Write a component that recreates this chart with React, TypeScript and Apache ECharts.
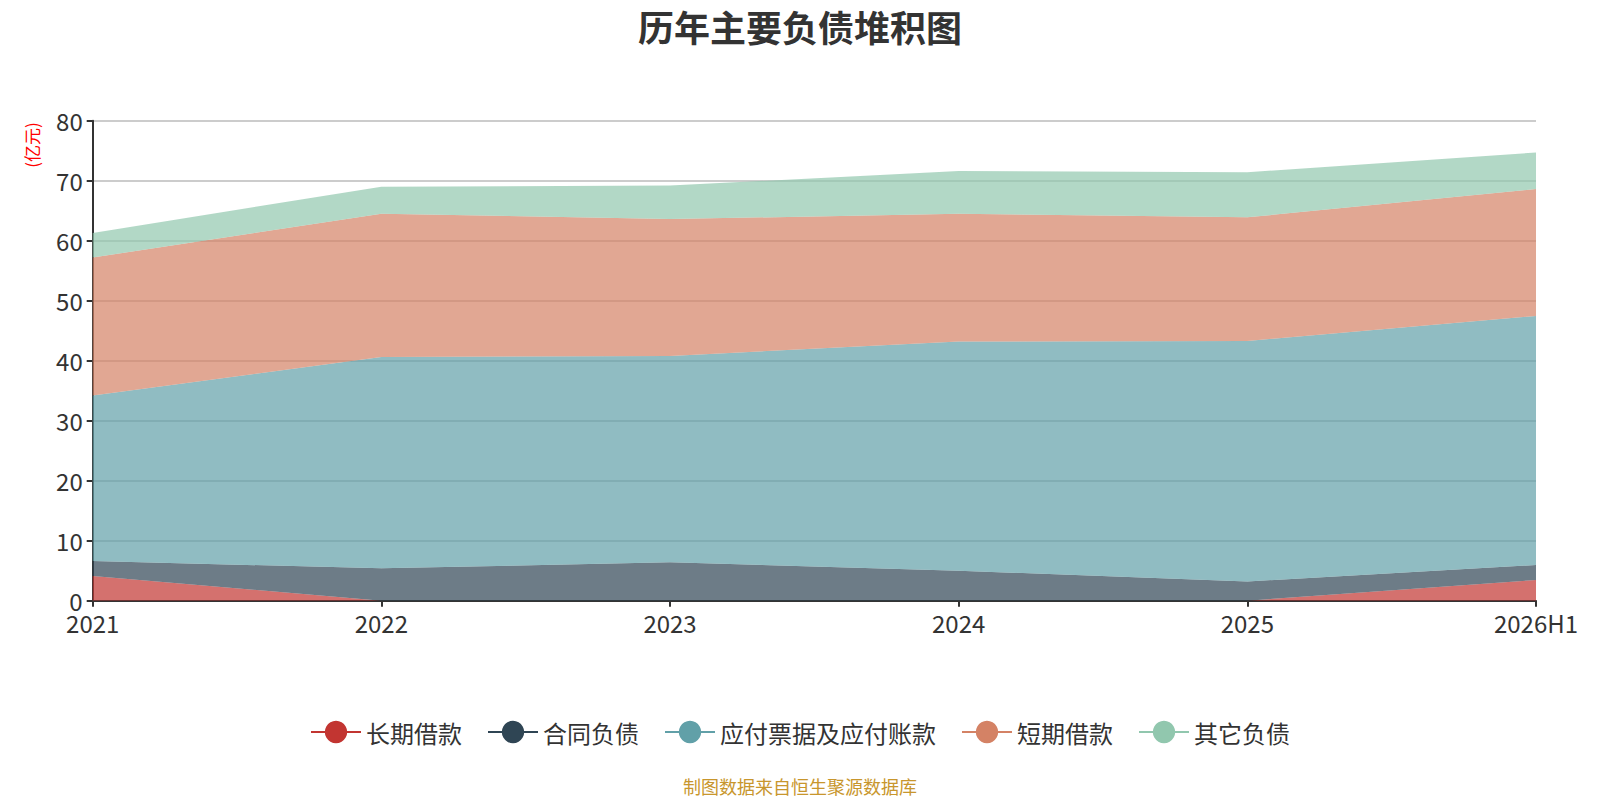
import React, { useEffect, useRef } from "react";
import * as echarts from "echarts";

const categories = ["2021", "2022", "2023", "2024", "2025", "2026H1"];
const seriesNames = ["长期借款", "合同负债", "应付票据及应付账款", "短期借款", "其它负债"];
const longTermLoans = [4.1, 0, 0, 0, 0, 3.45];
const contractLiabilities = [2.5, 5.4, 6.4, 5.0, 3.2, 2.5];
const payables = [27.6, 35.2, 34.4, 38.2, 40.1, 41.5];
const shortTermLoans = [23.0, 23.9, 22.8, 21.3, 20.6, 21.15];
const otherLiabilities = [4.1, 4.5, 5.6, 7.1, 7.5, 6.1];
const yTicks = [0, 10, 20, 30, 40, 50, 60, 70, 80];

const colors = ["#c23531", "#2f4554", "#61a0a8", "#d48265", "#91c7ae"];
const FONT = "'Noto Sans CJK SC', 'Noto Sans', sans-serif";

export default function App() {
  const ref = useRef<HTMLDivElement>(null);
  useEffect(() => {
    if (!ref.current) return;
    const chart = echarts.init(ref.current, null, { renderer: "svg" });
    const values = [longTermLoans, contractLiabilities, payables, shortTermLoans, otherLiabilities];
    chart.setOption({
      animation: false,
      color: colors,
      textStyle: { fontFamily: FONT },
      title: {
        text: "历年主要负债堆积图",
        left: "center",
        top: 3,
        textStyle: { fontSize: 36, fontWeight: "bold", color: "#333", fontFamily: FONT },
      },
      legend: {
        top: 715,
        left: "center",
        itemWidth: 50,
        itemHeight: 28,
        itemGap: 25,
        lineStyle: { width: 2, opacity: 1 },
        textStyle: { fontSize: 24, color: "#333", fontFamily: FONT },
        data: seriesNames,
      },
      grid: { left: 92.7, right: 64, top: 120.7, bottom: 199.3, containLabel: false },
      xAxis: {
        type: "category",
        boundaryGap: false,
        data: categories,
        axisLine: { lineStyle: { color: "#333", width: 2 } },
        axisTick: { show: true, lineStyle: { color: "#333", width: 2 }, length: 6 },
        axisLabel: { fontSize: 24, color: "#333", margin: 10, fontFamily: FONT },
      },
      yAxis: {
        type: "value",
        min: yTicks[0],
        max: yTicks[yTicks.length - 1],
        interval: 10,
        axisLine: { show: true, lineStyle: { color: "#333", width: 2 } },
        axisTick: { show: true, lineStyle: { color: "#333", width: 2 }, length: 6 },
        axisLabel: { fontSize: 24, color: "#333", margin: 10, fontFamily: FONT },
        splitLine: { show: true, lineStyle: { color: "#ccc", width: 2 } },
      },
      series: seriesNames.map((name, i) => ({
        name,
        type: "line",
        stack: "total",
        data: values[i],
        symbol: "circle",
        showSymbol: false,
        symbolSize: 8,
        lineStyle: { width: 0 },
        areaStyle: { opacity: 0.7 },
        itemStyle: { color: colors[i] },
      })),
      graphic: [
        {
          type: "text",
          x: 31,
          y: 145,
          rotation: Math.PI / 2,
          style: {
            text: "(亿元)",
            fill: "#ff0000",
            fontSize: 17,
            fontFamily: FONT,
            textAlign: "center",
            textVerticalAlign: "middle",
          },
        },
        {
          type: "text",
          x: 800,
          y: 786,
          style: {
            text: "制图数据来自恒生聚源数据库",
            fill: "#c8962d",
            fontSize: 18,
            fontFamily: FONT,
            textAlign: "center",
            textVerticalAlign: "middle",
          },
        },
      ],
    });
    return () => chart.dispose();
  }, []);
  return (
    <div
      ref={ref}
      style={{ position: "fixed", left: 0, top: 0, width: 1600, height: 800, background: "#fff" }}
    />
  );
}
